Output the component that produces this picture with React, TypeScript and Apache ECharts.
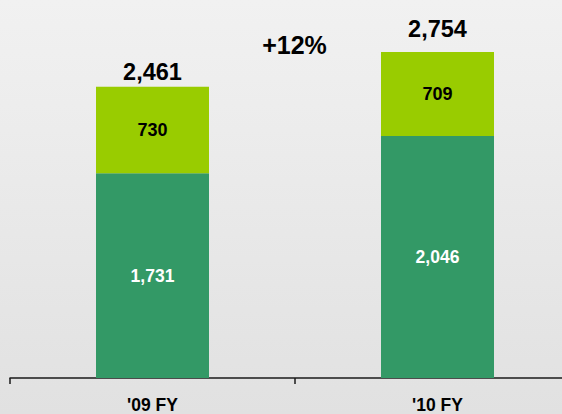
import React, { useEffect, useRef } from "react";
import * as echarts from "echarts";

const categories = ["'09 FY", "'10 FY"];
const baseValues = [1731, 2046];
const topValues = [730, 709];
const totalLabels = ["2,461", "2,754"];
const growthLabel = "+12%";

const fmt = (v: number) => v.toLocaleString("en-US");

export default function App() {
  const ref = useRef<HTMLDivElement>(null);
  useEffect(() => {
    if (!ref.current) return;
    const chart = echarts.init(ref.current, undefined, { renderer: "svg" });
    const font = "'Liberation Sans', Arial, sans-serif";
    const labelGaps = [3, 11];
    chart.setOption({
      animation: false,
      backgroundColor: new echarts.graphic.LinearGradient(0, 0, 0, 1, [
        { offset: 0, color: "#f1f1f1" },
        { offset: 1, color: "#e1e1e1" },
      ]),
      grid: { left: 10, right: 0, top: 23, bottom: 36 },
      xAxis: {
        type: "category",
        data: categories,
        axisLine: { lineStyle: { color: "#1a1a1a", width: 1.5 } },
        axisTick: { show: true, length: 6, lineStyle: { color: "#1a1a1a", width: 1.5 } },
        axisLabel: {
          color: "#000",
          fontFamily: font,
          fontWeight: "bold",
          fontSize: 17.5,
          margin: 18,
        },
      },
      yAxis: {
        type: "value",
        min: 0,
        max: 3000,
        show: false,
        splitLine: { show: false },
      },
      series: [
        {
          type: "bar",
          stack: "s",
          data: baseValues,
          barWidth: 113,
          itemStyle: { color: "#339966" },
          label: {
            show: true,
            position: "inside",
            color: "#fff",
            fontFamily: font,
            fontWeight: "bold",
            fontSize: 17.5,
            formatter: (p: any) => fmt(p.value),
          },
        },
        {
          type: "bar",
          stack: "s",
          data: topValues,
          barWidth: 113,
          itemStyle: { color: "#99cc00" },
          label: {
            show: true,
            position: "inside",
            color: "#000",
            fontFamily: font,
            fontWeight: "bold",
            fontSize: 18,
            formatter: (p: any) => fmt(p.value),
          },
        },
        {
          type: "bar",
          stack: "s",
          data: totalLabels.map((_, i) => ({
            value: 0,
            label: { distance: labelGaps[i] },
          })),
          barWidth: 113,
          itemStyle: { color: "transparent" },
          label: {
            show: true,
            position: "top",
            color: "#000",
            fontFamily: font,
            fontWeight: "bold",
            fontSize: 23.5,
            formatter: (p: any) => totalLabels[p.dataIndex],
          },
        },
      ],
      graphic: [
        {
          type: "text",
          x: 294.5,
          y: 45,
          style: {
            text: growthLabel,
            fill: "#000",
            font: `bold 25px ${font}`,
            textAlign: "center",
            textVerticalAlign: "middle",
          },
        },
      ],
    });
    return () => chart.dispose();
  }, []);
  return (
    <div
      style={{
        position: "fixed",
        left: 0,
        top: 0,
        width: 562,
        height: 414,
        overflow: "hidden",
      }}
    >
      <div ref={ref} style={{ width: 580, height: 414 }} />
    </div>
  );
}
